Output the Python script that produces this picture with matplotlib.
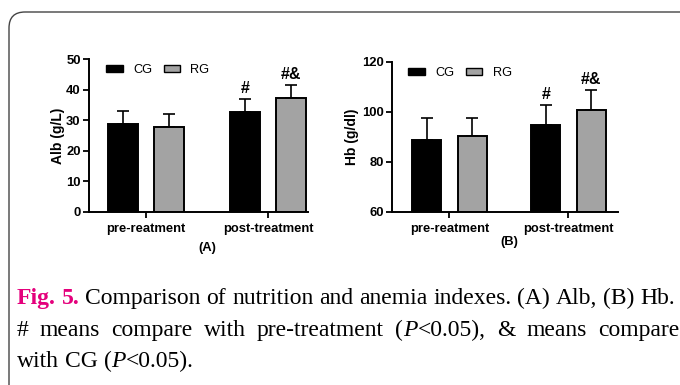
import matplotlib
matplotlib.use("Agg")
import matplotlib.pyplot as plt
import numpy as np
from matplotlib.patches import FancyBboxPatch, Patch
from matplotlib.transforms import IdentityTransform

# ---- data ----
groups = ["pre-reatment", "post-treatment"]
series = ["CG", "RG"]
alb_mean = {"CG": [28.8, 32.8], "RG": [27.7, 37.2]}
alb_sd = {"CG": [4.2, 4.2], "RG": [4.4, 4.3]}
hb_mean = {"CG": [88.9, 94.7], "RG": [90.3, 100.8]}
hb_sd = {"CG": [8.7, 8.2], "RG": [7.3, 8.1]}
alb_marks = {"CG": ["", "#"], "RG": ["", "#&"]}
hb_marks = {"CG": ["", "#"], "RG": ["", "#&"]}
alb_ticks = [0, 10, 20, 30, 40, 50]
hb_ticks = [60, 80, 100, 120]

colors = {"CG": "#000000", "RG": "#a3a3a3"}
W, H = 680, 385
fig = plt.figure(figsize=(W / 100, H / 100), dpi=100)
plt.rcParams["font.family"] = ["Liberation Sans", "DejaVu Sans"]


def panel(rect, means, sds, marks, ticks, ylim, ylabel, letter, xlim, letter_y, leg_x, lab_pad):
    ax = fig.add_axes(rect)
    x = np.arange(len(groups))
    off = 0.19
    bw = 0.245
    for i, s in enumerate(series):
        xs = x + (-off if i == 0 else off)
        ax.bar(xs, np.array(means[s]) - ylim[0], bottom=ylim[0], width=bw,
               color=colors[s], edgecolor="black", linewidth=1.4, label=s, zorder=2)
        ax.errorbar(xs, means[s], yerr=[np.zeros(len(groups)), sds[s]], fmt="none",
                    ecolor="black", elinewidth=1.2, capsize=4.5, capthick=1.2, zorder=1)
        for xi, m, sd, mk in zip(xs, means[s], sds[s], marks[s]):
            if mk:
                ax.annotate(mk, (xi, m + sd), xytext=(0, 2), textcoords="offset points",
                            ha="center", va="bottom", fontsize=11.5, fontweight="bold")
    ax.set_xlim(*xlim)
    ax.set_ylim(*ylim)
    ax.set_yticks(ticks)
    ax.set_xticks(x)
    ax.set_xticklabels(groups, fontsize=9.4, fontweight="bold")
    for lab in ax.get_yticklabels():
        lab.set_fontweight("bold")
        lab.set_fontsize(9.4)
    ax.tick_params(axis="both", direction="out", length=4, width=1.3, pad=2)
    ax.tick_params(axis="x", pad=4)
    for sp in ["top", "right"]:
        ax.spines[sp].set_visible(False)
    for sp in ["left", "bottom"]:
        ax.spines[sp].set_linewidth(1.4)
    ax.set_ylabel(ylabel, fontsize=10, fontweight="bold", labelpad=lab_pad)
    ax.text(0.5 * (x[0] + x[1]), letter_y, letter, transform=ax.get_xaxis_transform(),
            ha="center", va="center", fontsize=9.4, fontweight="bold")
    handles = [Patch(facecolor=colors[s], edgecolor="black", linewidth=1.0) for s in series]
    ax.legend(handles, series, loc="upper left", bbox_to_anchor=(leg_x, 1.0), ncol=2,
              frameon=False, fontsize=9.2, handlelength=1.3, handleheight=0.55,
              handletextpad=0.8, columnspacing=0.9, borderaxespad=0)
    return ax


panel([89 / W, 1 - 212 / H, 219 / W, 153 / H], alb_mean, alb_sd, alb_marks, alb_ticks,
      (0, 50), "Alb (g/L)", "(A)", (-0.467, 1.328), -0.235, 0.055, 1)
panel([392 / W, 1 - 212 / H, 226 / W, 150 / H], hb_mean, hb_sd, hb_marks, hb_ticks,
      (60, 120), "Hb (g/dl)", "(B)", (-0.483, 1.416), -0.2, 0.05, 2)

# rounded frame
frame = FancyBboxPatch((9, -30), 720, (H - 12) + 30,
                       boxstyle="round,pad=0,rounding_size=16",
                       transform=IdentityTransform(), facecolor="none",
                       edgecolor="#444444", linewidth=1.0)
fig.add_artist(frame)

# caption
serif = ["Liberation Serif", "DejaVu Serif"]
cap_size = 17
magenta = "#e4007c"
line1 = [[("Fig.", dict(weight="bold", color=magenta))], [("5.", dict(weight="bold", color=magenta))]] + \
    [[(w, {})] for w in "Comparison of nutrition and anemia indexes. (A) Alb, (B) Hb.".split()]
line2 = [[(w, {})] for w in "# means compare with pre-treatment".split()] + \
    [[("(", {}), ("P", dict(style="italic")), ("<0.05),", {})]] + \
    [[(w, {})] for w in "& means compare".split()]
line3 = [[("with", {})], [("CG", {})], [("(", {}), ("P", dict(style="italic")), ("<0.05).", {})]]

renderer = fig.canvas.get_renderer()


def piece_width(t, st):
    tx = fig.text(0, 0, t, fontsize=cap_size, family=serif, **st)
    w = tx.get_window_extent(renderer).width
    tx.remove()
    return w


def word_width(word):
    return sum(piece_width(t, st) for t, st in word)


def draw_line(words, x0, x1, ybase, justify=True):
    widths = [word_width(w) for w in words]
    if justify:
        gap = max((x1 - x0 - sum(widths)) / (len(words) - 1), 2.0)
    else:
        gap = cap_size * 100 / 72 * 0.25
    x = x0
    for word, ww in zip(words, widths):
        xx = x
        for t, st in word:
            fig.text(xx / W, ybase / H, t, fontsize=cap_size, family=serif,
                     va="baseline", ha="left", **st)
            xx += piece_width(t, st)
        x += ww + gap


draw_line(line1, 17, 675, H - 304)
draw_line(line2, 17, 679, H - 336)
draw_line(line3, 17, 0, H - 367, justify=False)

fig.savefig("out.png", dpi=100)
